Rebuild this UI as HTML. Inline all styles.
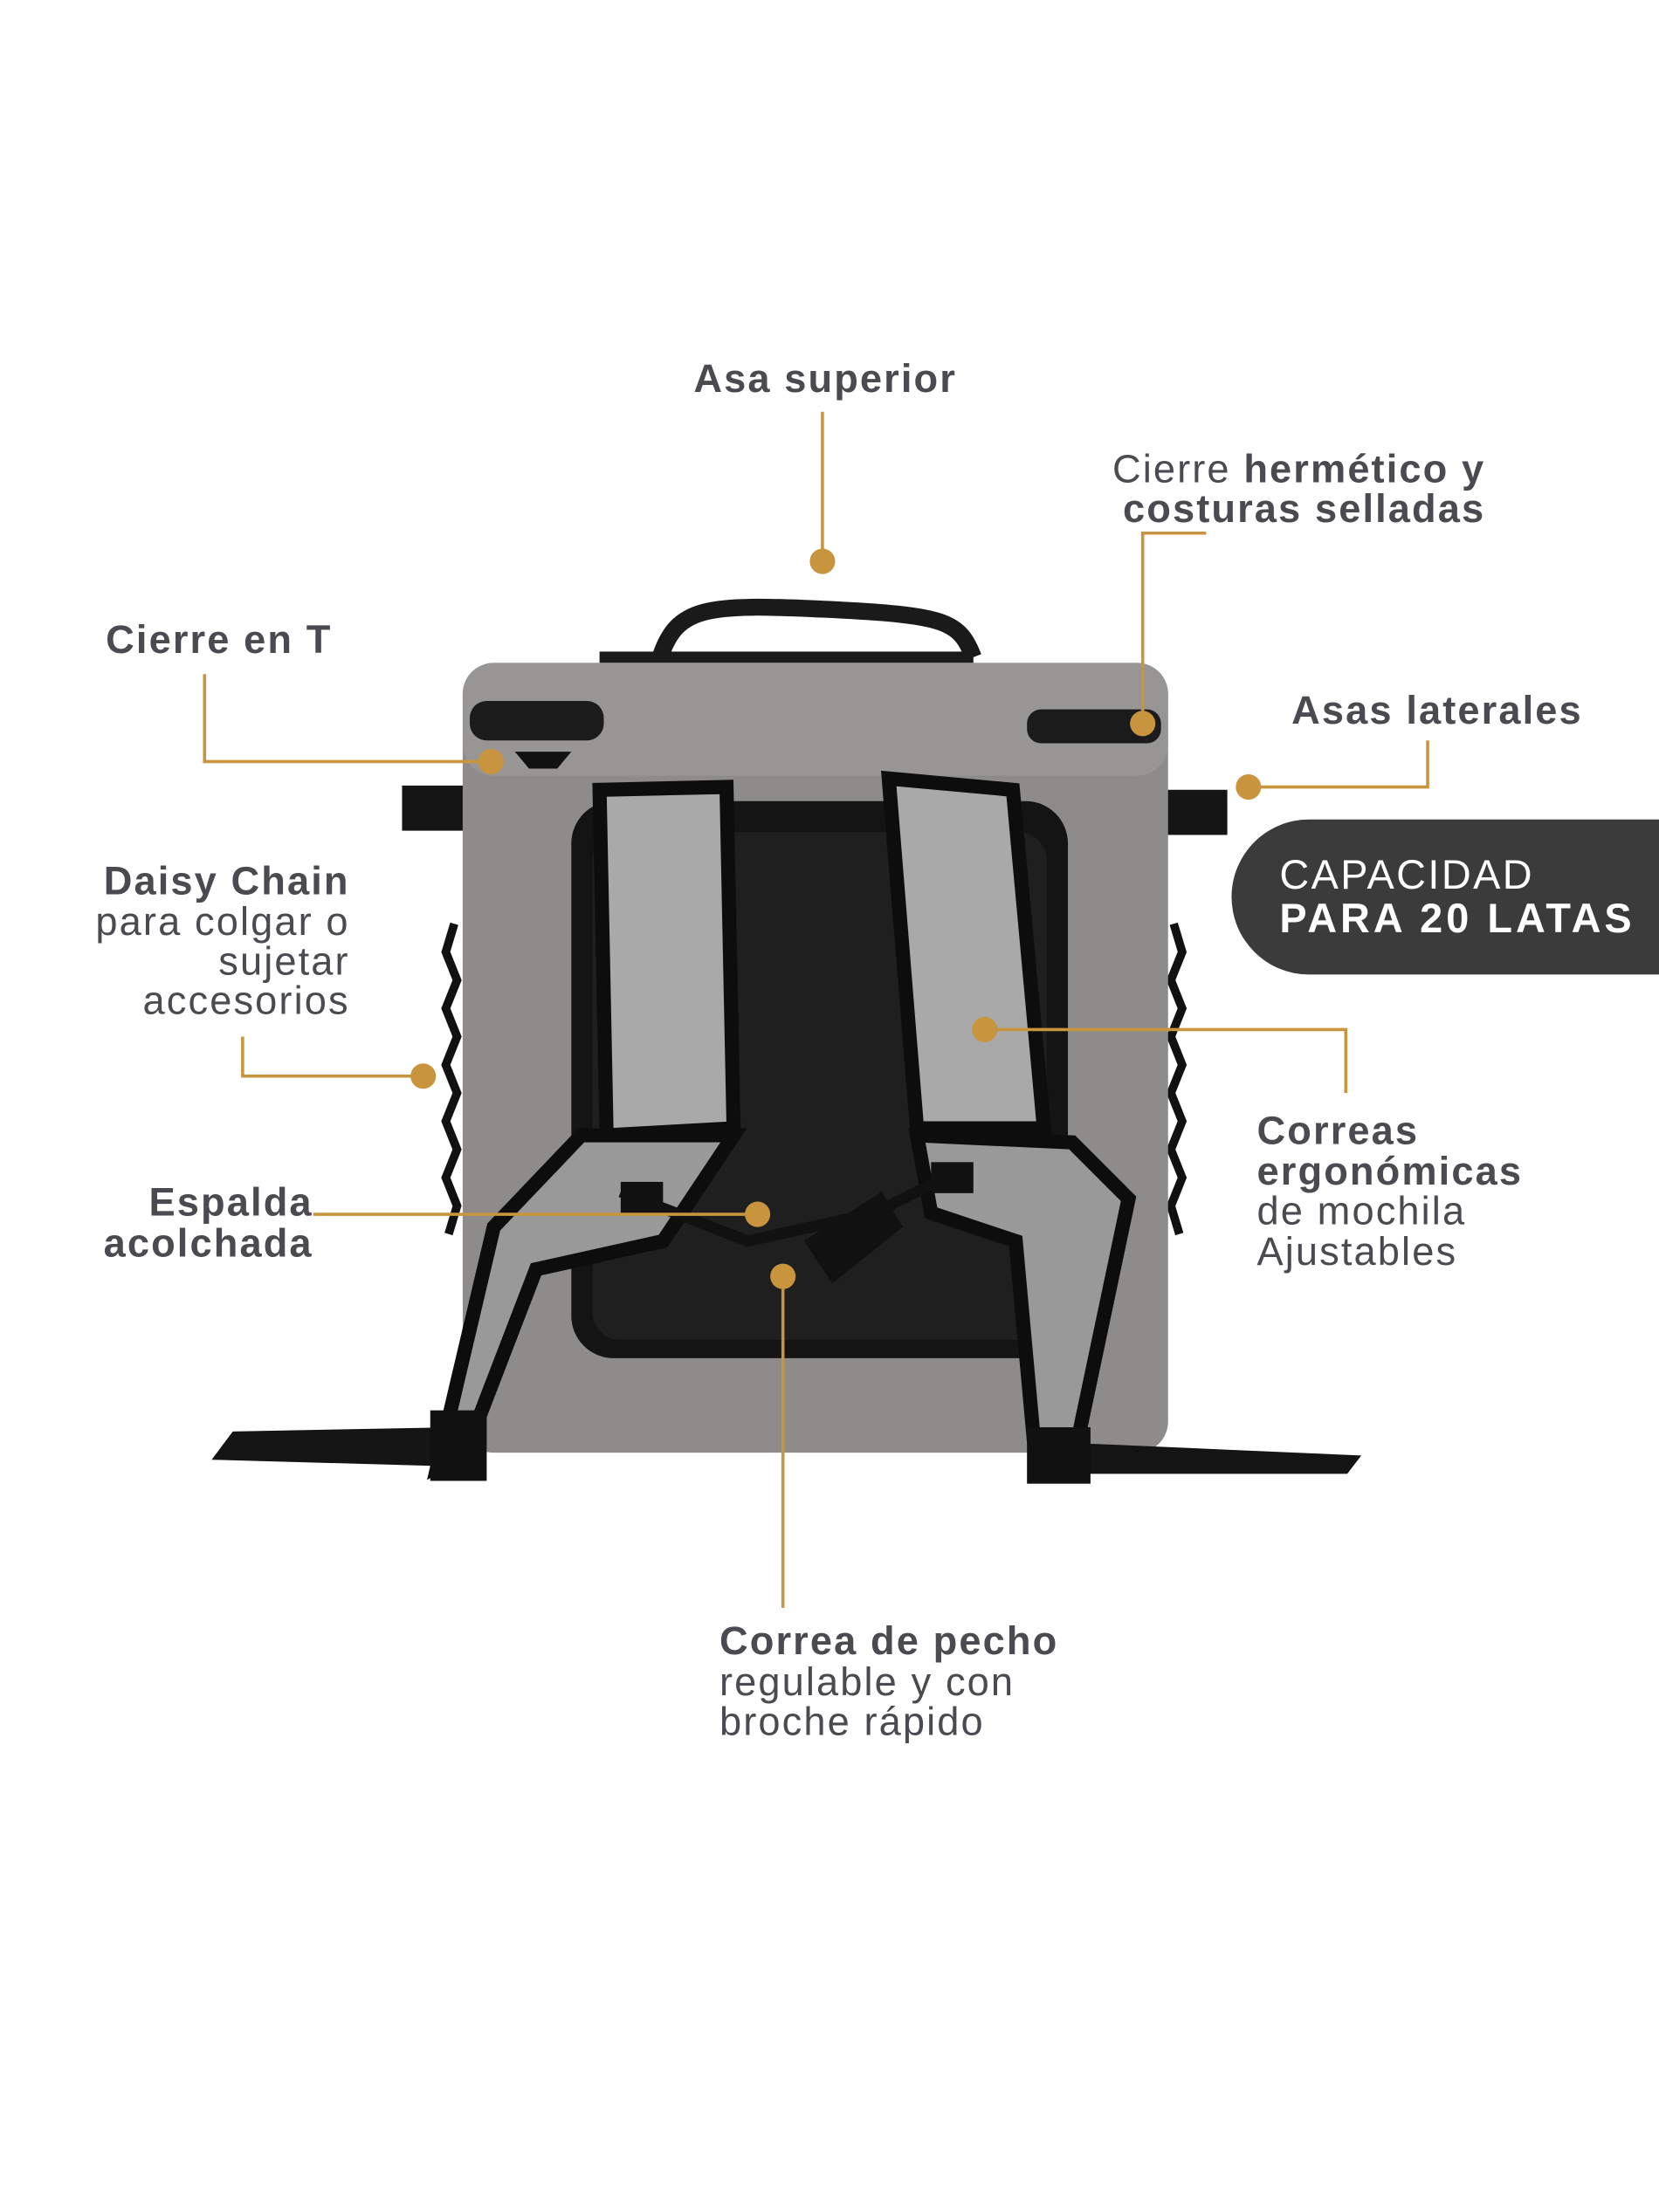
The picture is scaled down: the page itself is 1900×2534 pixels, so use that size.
<!DOCTYPE html>
<html><head><meta charset="utf-8"><style>
html,body{margin:0;padding:0;background:#fff;}
svg{display:block;}
text{font-family:"Liberation Sans",sans-serif;fill:#4b4a50;}
.b{font-weight:bold;}
</style></head><body>
<svg width="1900" height="2534" viewBox="0 0 1176 1568.4" preserveAspectRatio="none" xmlns="http://www.w3.org/2000/svg">
<rect width="1176" height="1568.4" fill="#fff"/>
<g>
  <path d="M468 466 C480 430 500 428 585 432 C670 436 680 440 690 466" fill="none" stroke="#1a1a1a" stroke-width="12"/>
  <rect x="425" y="462" width="265" height="8" fill="#1a1a1a"/>
  <rect x="285" y="557" width="58" height="32" fill="#151515"/>
  <rect x="812" y="560" width="58" height="32" fill="#151515"/>
  <path d="M322 655 l-6 20 l8 20 l-8 20 l8 20 l-8 20 l8 20 l-8 20 l8 20 l-8 20 l8 20 l-6 20" fill="none" stroke="#111" stroke-width="6"/>
  <path d="M832 655 l6 20 l-8 20 l8 20 l-8 20 l8 20 l-8 20 l8 20 l-8 20 l8 20 l-8 20 l6 20" fill="none" stroke="#111" stroke-width="6"/>
  <rect x="328" y="470" width="500" height="560" rx="22" fill="#8d8c8a"/>
  <rect x="328" y="470" width="500" height="80" rx="22" fill="#979694"/>
  <rect x="333" y="497" width="95" height="28" rx="12" fill="#1b1b1b"/>
  <rect x="728" y="503" width="95" height="24" rx="10" fill="#1b1b1b"/>
  <path d="M385 505 v28 h-20 l10 12 h20 l10-12 h-20" fill="#111"/>
  <rect x="405" y="568" width="352" height="395" rx="30" fill="#141414"/>
  <rect x="420" y="590" width="322" height="360" rx="20" fill="#1f1f1f"/>
  <path d="M425 560 L515 558 L520 800 L430 805 Z" fill="#a9a9a9" stroke="#0d0d0d" stroke-width="10"/>
  <path d="M630 552 L718 560 L740 800 L650 800 Z" fill="#a9a9a9" stroke="#0d0d0d" stroke-width="10"/>
  <path d="M412 805 L520 805 L470 880 L380 900 L330 1030 L310 1040 L350 870 Z" fill="#999" stroke="#0d0d0d" stroke-width="10"/>
  <path d="M650 805 L760 810 L800 850 L760 1040 L735 1045 L720 880 L660 860 Z" fill="#999" stroke="#0d0d0d" stroke-width="10"/>
  <path d="M440 845 L530 880 L620 860 L680 830" fill="none" stroke="#111" stroke-width="8"/>
  <path d="M570 880 L625 845 L640 870 L590 910 Z" fill="#111"/>
  <rect x="440" y="838" width="30" height="22" fill="#111"/>
  <rect x="660" y="824" width="30" height="22" fill="#111"/>
  <path d="M150 1035 L165 1015 L320 1012 L330 1040 Z" fill="#141414"/>
  <path d="M735 1022 L965 1032 L955 1045 L740 1045 Z" fill="#141414"/>
  <rect x="305" y="1000" width="40" height="50" fill="#111"/>
  <rect x="728" y="1012" width="45" height="40" fill="#111"/>
</g>
<g stroke="#c8953e" stroke-width="2.2" fill="none">
  <line x1="583" y1="292" x2="583" y2="398"/>
  <polyline points="855,378 810,378 810,513"/>
  <polyline points="145,478 145,540 348,540"/>
  <polyline points="1012,525 1012,558 885,558"/>
  <polyline points="172,735 172,763 300,763"/>
  <polyline points="698,730 954,730 954,775"/>
  <line x1="222" y1="861" x2="537" y2="861"/>
  <line x1="555" y1="905" x2="555" y2="1140"/>
</g>
<g fill="#c8953e">
  <circle cx="583" cy="398" r="9"/>
  <circle cx="810" cy="513" r="9"/>
  <circle cx="348" cy="540" r="9"/>
  <circle cx="885" cy="558" r="9"/>
  <circle cx="300" cy="763" r="9"/>
  <circle cx="698" cy="730" r="9"/>
  <circle cx="537" cy="861" r="9"/>
  <circle cx="555" cy="905" r="9"/>
</g>
<path d="M928 581 H1176 V691 H928 A55 55 0 0 1 928 581 Z" fill="#3b3b3b"/>
<text x="907" y="630" font-size="29" letter-spacing="1.5" style="fill:#fff">CAPACIDAD</text>
<text x="907" y="661" font-size="29" letter-spacing="2.5" class="b" style="fill:#fff">PARA 20 LATAS</text>
<g font-size="28" letter-spacing="1.3">
<text x="585" y="278" text-anchor="middle" class="b">Asa superior</text>
<text x="1053" y="342" text-anchor="end">Cierre <tspan class="b">hermético y</tspan></text>
<text x="1053" y="370" text-anchor="end" class="b">costuras selladas</text>
<text x="75" y="463" class="b">Cierre en T</text>
<text x="1122" y="513" text-anchor="end" class="b">Asas laterales</text>
<text x="248" y="634" text-anchor="end" class="b">Daisy Chain</text>
<text x="248" y="663" text-anchor="end">para colgar o</text>
<text x="248" y="691" text-anchor="end">sujetar</text>
<text x="248" y="719" text-anchor="end">accesorios</text>
<text x="891" y="811" class="b">Correas</text>
<text x="891" y="840" class="b">ergonómicas</text>
<text x="891" y="868">de mochila</text>
<text x="891" y="897">Ajustables</text>
<text x="222" y="862" text-anchor="end" class="b">Espalda</text>
<text x="222" y="891" text-anchor="end" class="b">acolchada</text>
<text x="510" y="1173" class="b">Correa de pecho</text>
<text x="510" y="1202">regulable y con</text>
<text x="510" y="1230">broche rápido</text>
</g>
</svg>
</body></html>
